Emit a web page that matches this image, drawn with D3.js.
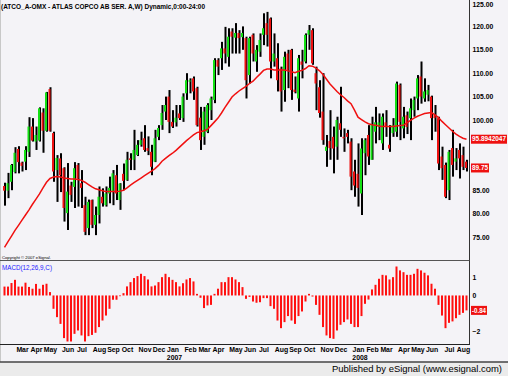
<!DOCTYPE html>
<html lang="en">
<head>
<meta charset="utf-8">
<title>ATCO_A weekly</title>
<script src="https://d3js.org/d3.v7.min.js"></script>
<style>
  body { margin:0; background:#f4f3f7; }
  svg { display:block; font-family:"Liberation Sans", Arial, sans-serif; }
  .tick line { display:none; }
</style>
</head>
<body>
<svg width="508" height="376"></svg>
<script>
// one bar per week, first bar dated Mon 30 Jan 2006
const firstWeek = new Date(2006, 0, 30);

const opens = [85.9,84.9,86.8,88.9,93.8,90.9,91.1,93.2,98.6,95.4,95.6,101.6,97.7,106.6,97.2,89.3,91.8,89.7,80.1,86.0,
  85.7,90.4,86.5,81.8,76.9,82.9,77.6,79.7,83.6,81.8,84.3,84.7,88.2,82.9,88.5,87.2,91.8,91.5,92.5,94.7,
  96.1,94.0,93.2,91.1,96.4,98.9,101.8,105.0,99.6,99.5,101.4,100.4,105.7,108.2,108.9,106.8,100.5,96.4,97.5,102.1,
  104.3,112.8,113.2,115.3,113.5,118.9,117.6,118.6,117.7,117.5,109.6,118.2,112.5,114.6,118.2,120.7,121.7,112.5,113.2,111.0,
  106.4,114.2,115.0,106.5,104.6,112.5,112.5,118.2,119.2,110.0,107.0,101.8,93.4,95.5,96.4,94.3,99.3,96.4,97.2,95.4,
  89.0,88.5,84.3,92.9,96.8,91.5,97.5,98.5,95.0,99.5,94.7,97.2,97.5,107.5,98.2,101.0,100.4,102.1,104.6,109.3,
  104.6,105.4,105.0,101.1,100.4,92.2,90.4,85.0,94.0,91.1,93.6,92.5,91.1];
const highs = [86.6,88.7,90.6,94.2,94.4,91.1,94.4,100.6,100.4,98.6,102.7,102.5,106.0,107.0,97.5,92.5,92.9,89.9,90.8,86.8,
  91.0,90.8,89.3,83.6,83.0,83.0,81.5,85.8,85.4,85.8,87.9,89.3,90.4,86.5,90.7,93.2,92.9,97.9,95.7,97.5,
  98.9,96.5,94.7,97.9,98.9,103.2,105.0,106.4,102.1,103.2,103.2,105.7,110.0,108.9,109.3,107.1,102.8,102.8,103.6,105.0,
  113.2,113.2,116.7,119.9,119.6,119.6,120.7,119.2,120.0,117.8,117.8,118.5,116.0,118.5,122.8,123.1,121.9,118.5,116.4,111.4,
  114.6,115.0,115.2,109.3,113.9,115.0,118.5,120.3,119.6,111.4,108.5,110.0,96.8,102.1,98.6,100.7,107.1,98.2,97.9,96.1,
  91.5,95.0,96.1,96.1,98.9,100.7,102.8,101.4,101.4,102.1,98.9,100.4,108.2,107.8,102.8,101.8,104.6,105.0,109.6,112.5,
  108.9,107.5,105.2,103.2,100.7,94.3,90.9,93.6,97.9,94.0,95.0,94.3,91.5];
const lows = [81.7,83.3,85.0,88.6,88.6,89.0,89.3,92.1,95.4,93.6,95.4,93.0,97.5,97.5,86.8,82.5,84.6,78.3,76.5,82.5,
  81.2,81.5,81.2,75.4,75.4,76.9,75.4,77.9,81.5,81.5,82.2,81.8,82.9,80.8,85.0,87.0,89.3,89.3,92.3,94.3,
  93.2,92.5,88.2,91.0,95.7,97.9,100.0,97.2,98.3,98.6,100.0,99.6,104.3,105.7,104.3,98.6,93.6,94.7,97.2,100.0,
  103.6,109.6,110.7,112.1,111.4,114.2,114.2,114.2,115.0,104.6,107.8,112.5,110.3,113.5,116.0,115.7,108.9,111.4,106.1,101.8,
  103.9,106.8,104.3,105.7,101.8,108.9,112.1,115.0,111.8,102.1,100.5,94.7,90.0,91.5,88.6,91.5,96.4,93.2,95.0,85.0,
  83.6,81.5,79.7,88.2,90.4,91.5,95.0,95.7,93.6,96.4,93.2,96.4,96.4,95.7,96.1,97.0,95.7,100.7,102.1,103.5,
  103.9,104.0,95.7,97.5,89.3,87.2,83.3,82.9,87.9,89.3,87.5,89.3,89.0];
const closes = [84.9,86.5,90.4,93.0,91.0,90.2,93.6,98.6,95.6,96.8,102.5,97.7,105.9,97.7,89.0,91.9,88.2,81.2,84.7,84.0,
  89.7,87.5,85.5,76.1,82.5,77.6,79.7,83.6,82.2,84.3,85.5,88.6,84.3,86.4,87.0,91.5,91.5,93.6,94.7,95.7,
  93.6,93.4,90.0,96.1,98.3,101.5,103.2,99.6,98.6,100.5,100.4,105.0,108.5,108.5,106.1,98.9,95.7,101.8,103.2,104.6,
  112.8,111.4,115.3,114.2,117.8,117.8,118.6,117.5,118.6,108.5,117.5,114.2,115.0,117.1,119.6,118.2,112.5,114.2,108.5,106.1,
  113.5,110.7,106.4,106.0,113.2,111.8,118.2,119.2,112.1,107.8,101.5,95.7,94.3,94.0,93.9,100.0,97.9,96.1,96.4,87.9,
  86.0,85.5,93.9,95.7,92.2,98.9,99.5,99.5,100.7,98.5,93.9,98.9,107.8,99.6,100.7,98.5,102.5,104.3,108.9,105.0,
  106.1,106.4,100.4,100.4,90.7,89.7,83.6,93.2,90.4,91.8,91.8,90.0,89.75];

// red moving average, one value per week
const maLine = [72.8,74.0,75.2,76.4,77.5,78.6,79.7,80.8,82.0,83.1,84.2,85.5,86.7,87.5,87.8,87.9,87.8,87.6,87.5,87.4,
  87.4,87.3,87.1,86.7,86.2,85.7,85.3,85.1,84.9,84.7,84.7,84.7,84.7,84.8,85.0,85.5,86.1,86.6,87.1,87.6,
  88.1,88.6,89.1,89.6,90.3,91.2,91.8,92.4,92.9,93.5,94.2,94.9,95.6,96.2,96.8,97.3,97.5,97.7,98.0,98.8,
  99.6,100.4,101.5,102.7,103.8,104.9,105.6,106.2,106.7,107.2,107.8,108.3,109.1,109.8,110.6,110.9,110.9,110.7,110.7,110.7,
  110.7,110.5,110.3,110.1,110.4,110.6,111.0,111.6,111.5,111.1,110.5,109.7,108.7,107.7,106.9,106.1,105.4,104.8,104.1,103.5,
  102.1,100.6,100.1,99.6,99.2,99.0,98.9,98.7,98.6,98.6,98.6,98.6,98.7,98.8,98.9,99.4,99.9,100.4,100.8,101.1,
  101.4,101.5,101.6,101.1,100.5,99.7,99.0,98.3,97.6,97.0,96.5,96.1,95.9];

// MACD(12,26,9) histogram, one bar per week
const macdHist = [0.5,0.5,0.7,0.88,0.5,0.5,0.72,0.48,0.38,0.65,0.38,0.6,0.66,0.19,
  -0.75,-1.22,-1.6,-2.4,-2.59,-2.59,-2.16,-1.97,-2.25,-2.59,-2.29,-2.22,-2.1,-1.78,-1.41,-1.13,-0.75,-0.24,-0.24,-0.04,
  0.13,0.51,0.75,0.98,1.09,1.22,1.09,0.9,0.51,0.56,0.75,1.03,1.22,1.03,0.88,0.75,0.51,0.69,0.9,0.98,0.79,0.09,
  -0.13,-0.71,-0.56,-0.53,0.09,0.38,0.75,0.75,1.03,1.03,0.9,0.75,0.47,-0.19,-0.08,-0.34,
  -0.41,-0.38,-0.15,-0.15,-0.6,-0.75,-1.41,-1.84,-1.5,-1.16,-1.41,-1.6,-1.16,-0.9,-0.34,0.09,-0.06,-0.53,-1.09,-1.78,
  -2.25,-2.4,-2.44,-1.97,-1.65,-1.5,-1.35,-1.6,-1.78,-1.78,-1.16,-0.47,-0.23,0.34,0.6,0.94,1.16,1.13,0.9,1.03,
  1.63,1.41,1.31,1.16,1.16,1.22,1.5,1.41,1.28,1.13,0.66,0.38,-0.53,-1.13,-1.84,-1.54,-1.46,-1.28,-1.09,-0.98,-0.84];

const priceTicks = [75, 80, 85, 90, 95, 100, 105, 110, 115, 120, 125];
const macdTicks = [1, 0, -2];
const yearLabels = ["2007", "2008"];
const lastClose = "89.75", lastMa = "95.8942047", lastMacd = "-0.84";

const svg = d3.select("svg");
const W = 508, plotRight = 469.5;
const weeks = d3.range(closes.length).map(i => d3.timeMonday.offset(firstWeek, i));

const x = d3.scaleTime().domain([weeks[0], weeks[weeks.length - 1]]).range([4.5, 466.5]);
const y = d3.scaleLinear().domain([75, 125]).range([237, 3]);
const yM = d3.scaleLinear().domain([-2, 1]).range([331, 277.7]);

// backgrounds
svg.append("rect").attr("width", W).attr("height", 376).attr("fill", "#f4f3f7");
svg.append("rect").attr("y", 362).attr("width", W).attr("height", 14).attr("fill", "#ebebeb");

svg.append("defs").append("clipPath").attr("id", "plot")
  .append("rect").attr("x", 0).attr("y", 0).attr("width", plotRight).attr("height", 345);

// price panel
const pg = svg.append("g").attr("clip-path", "url(#plot)");
const idx = d3.range(closes.length);

pg.selectAll("rect.wick").data(idx).join("rect")
  .attr("class", "wick")
  .attr("x", i => x(weeks[i]) - 0.5)
  .attr("width", 2)
  .attr("y", i => y(highs[i]))
  .attr("height", i => Math.max(1, y(lows[i]) - y(highs[i])))
  .attr("fill", "#000");

pg.selectAll("rect.body").data(idx).join("rect")
  .attr("class", "body")
  .attr("x", i => x(weeks[i]) - 1.5)
  .attr("width", 2)
  .attr("y", i => y(Math.max(opens[i], closes[i])))
  .attr("height", i => Math.max(1.5, Math.abs(y(opens[i]) - y(closes[i]))))
  .attr("fill", i => closes[i] >= opens[i] ? "#14e014" : "#ee1111");

pg.append("path")
  .datum(maLine)
  .attr("fill", "none")
  .attr("stroke", "#f01010")
  .attr("stroke-width", 1.5)
  .attr("d", d3.line().x((d, i) => x(weeks[i])).y(d => y(d)));

// MACD histogram
pg.selectAll("rect.macd").data(idx).join("rect")
  .attr("class", "macd")
  .attr("x", i => x(weeks[i]) - 1)
  .attr("width", 2)
  .attr("y", i => yM(Math.max(0, macdHist[i])))
  .attr("height", i => Math.max(0.5, Math.abs(yM(macdHist[i]) - yM(0))))
  .attr("fill", "#ff1010");

// frame lines
svg.append("line").attr("x1", 0.5).attr("x2", 0.5).attr("y1", 0).attr("y2", 362).attr("stroke", "#c8c8c8");
svg.append("line").attr("x1", plotRight).attr("x2", plotRight).attr("y1", 0).attr("y2", 345).attr("stroke", "#333");
svg.append("line").attr("x1", 0).attr("x2", plotRight).attr("y1", 260.5).attr("y2", 260.5).attr("stroke", "#555");
svg.append("line").attr("x1", 0).attr("x2", plotRight).attr("y1", 344.5).attr("y2", 344.5).attr("stroke", "#222");
svg.append("line").attr("x1", 0).attr("x2", W).attr("y1", 362).attr("y2", 362).attr("stroke", "#444").attr("stroke-width", 1.5);

// right price axis (labels hidden under a value flag are left out)
const flagPrices = [+lastMa, +lastClose];
const shownTicks = priceTicks.filter(p => flagPrices.every(f => Math.abs(y(p) - y(f)) > 5));
const ay = svg.append("g").attr("transform", `translate(${plotRight},0)`)
  .call(d3.axisRight(y).tickValues(shownTicks).tickFormat(d3.format(".2f")).tickSize(0).tickPadding(3));
ay.select(".domain").remove();
ay.selectAll("text").attr("font-size", 6.8).attr("font-weight", "bold").attr("fill", "#000")
  .attr("dy", d => d === 125 ? "0.55em" : "0.32em");

// MACD axis
const am = svg.append("g").attr("transform", `translate(${plotRight},0)`)
  .call(d3.axisRight(yM).tickValues(macdTicks).tickFormat(d3.format("d")).tickSize(0).tickPadding(3));
am.select(".domain").remove();
am.selectAll("text").attr("font-size", 6.8).attr("font-weight", "bold").attr("fill", "#000");

// value flags on the right
function flag(yy, txt, w) {
  svg.append("rect").attr("x", plotRight + 1.5).attr("y", yy - 4.5).attr("width", w).attr("height", 9).attr("fill", "#ee1111");
  svg.append("text").attr("x", plotRight + 2.5).attr("y", yy).attr("dy", "0.33em")
    .attr("font-size", 6.8).attr("font-weight", "bold").attr("fill", "#fff")
    .attr("textLength", w - 2).attr("lengthAdjust", "spacingAndGlyphs")
    .text(txt);
}
flag(y(+lastMa), lastMa, 36);
flag(y(+lastClose), lastClose, 18);
flag(yM(+lastMacd), lastMacd, 16);

// bottom month axis: label at first bar of each month
const monthStarts = d3.timeMonth.range(new Date(2006, 2, 1), new Date(2008, 8, 1))
  .map(m => d3.timeMonday.ceil(m));
const ax = svg.append("g").attr("transform", "translate(0,345)")
  .call(d3.axisBottom(x).tickValues(monthStarts).tickFormat(d3.timeFormat("%b")).tickSize(0).tickPadding(2));
ax.select(".domain").remove();
ax.selectAll("text").attr("font-size", 6.9).attr("font-weight", "bold").attr("fill", "#000");

const janWeeks = monthStarts.filter(d => d.getMonth() === 0);
svg.selectAll("text.year").data(janWeeks).join("text")
  .attr("class", "year")
  .attr("x", d => x(d) + 2)
  .attr("y", 359.5)
  .attr("text-anchor", "middle")
  .attr("font-size", 6.9).attr("font-weight", "bold")
  .text((d, i) => yearLabels[i]);

// texts
svg.append("text").attr("x", 1).attr("y", 8.5)
  .attr("font-size", 7.4).attr("font-weight", "bold").attr("fill", "#000")
  .attr("textLength", 204).attr("lengthAdjust", "spacingAndGlyphs")
  .text("(ATCO_A-OMX - ATLAS COPCO AB SER. A,W) Dynamic,0:00-24:00");

svg.append("text").attr("x", 2).attr("y", 258.5)
  .attr("font-size", 4.2).attr("fill", "#000")
  .text("Copyright © 2007 eSignal.");

svg.append("text").attr("x", 2).attr("y", 269.5)
  .attr("font-size", 7.6).attr("fill", "#1a1aff")
  .attr("textLength", 50).attr("lengthAdjust", "spacingAndGlyphs")
  .text("MACD(12,26,9,C)");

svg.append("text").attr("x", 502).attr("y", 372)
  .attr("text-anchor", "end")
  .attr("font-size", 9.6).attr("fill", "#000")
  .attr("textLength", 170).attr("lengthAdjust", "spacingAndGlyphs")
  .text("Published by eSignal (www.esignal.com)");
</script>
</body>
</html>
